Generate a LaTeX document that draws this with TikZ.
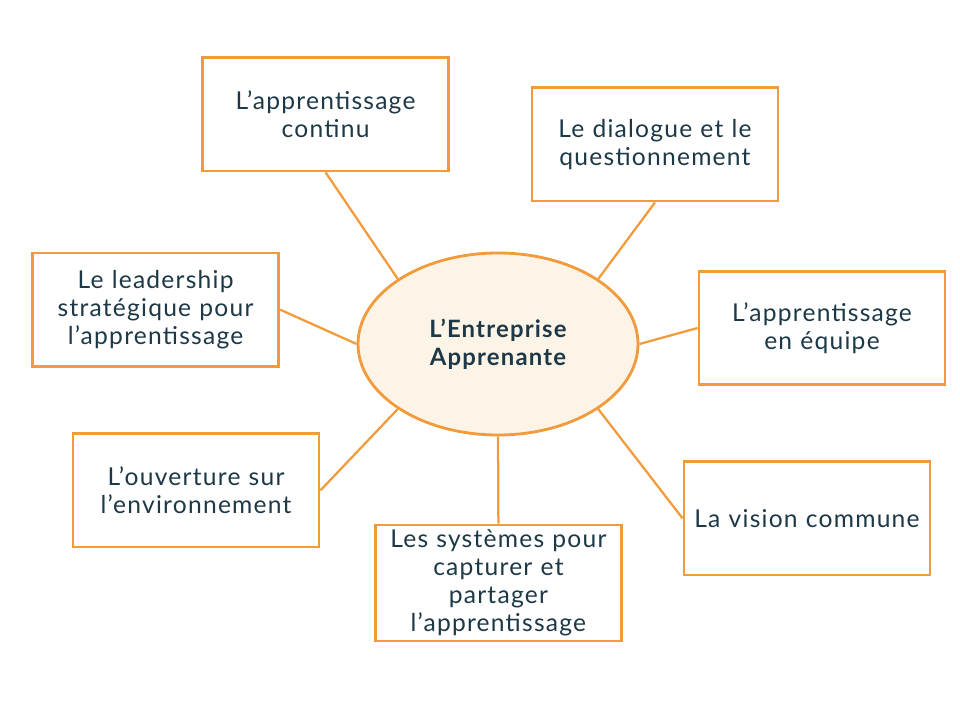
\documentclass[tikz,border=0pt]{standalone}
\usepackage{fontspec}
\setmainfont[LetterSpace=5]{Lato}
\usepackage{xcolor}
\usepackage{tikz}
\usetikzlibrary{shapes.geometric,positioning}
\definecolor{orangeline}{HTML}{F39A3A}
\definecolor{hubfill}{HTML}{FDF4E8}
\definecolor{inktext}{HTML}{1D3947}

\begin{document}
\begin{tikzpicture}[
  box/.style={draw=orangeline, line width=2pt, fill=white, minimum width=6.15cm, minimum height=2.83cm,
    align=center, text width=5.8cm, text=inktext, font=\fontsize{17.5}{20}\selectfont},
  hubnode/.style={ellipse, draw=orangeline, line width=2pt, fill=hubfill, minimum width=7cm,
    minimum height=4.55cm, inner sep=0pt, align=center, text=inktext, font=\fontsize{17}{20}\selectfont\bfseries},
  link/.style={orangeline, line width=1.6pt}
]
\useasboundingbox (0,0) rectangle (24,18);

% centre of the map
\node[hubnode] (hub) at (12.45,9.4) {L'Entreprise\\Apprenante};

% the seven surrounding themes
\node[box] (cont)   at (8.14,15.14)  {L'apprentissage\\continu};
\node[box] (dial)   at (16.375,14.39) {Le dialogue et le\\questionnement};
\node[box] (equipe) at (20.55,9.8)   {L'apprentissage\\en équipe};
\node[box] (vision) at (20.175,5.04) {La vision commune};
\node[box] (syst)   at (12.46,3.425) {Les systèmes pour\\capturer et\\partager\\l'apprentissage};
\node[box] (ouv)    at (4.9,5.74)    {L'ouverture sur\\l'environnement};
\node[box] (lead)   at (3.89,10.26)  {Le leadership\\stratégique pour\\l'apprentissage};

% spokes
\draw[link] (cont.south)  -- (hub.147);
\draw[link] (dial.south)  -- (hub.33);
\draw[link] (equipe.west) -- (hub.0);
\draw[link] (vision.west) -- (hub.327);
\draw[link] (syst.north)  -- (hub.270);
\draw[link] (ouv.east)    -- (hub.213);
\draw[link] (lead.east)   -- (hub.180);
\end{tikzpicture}
\end{document}
